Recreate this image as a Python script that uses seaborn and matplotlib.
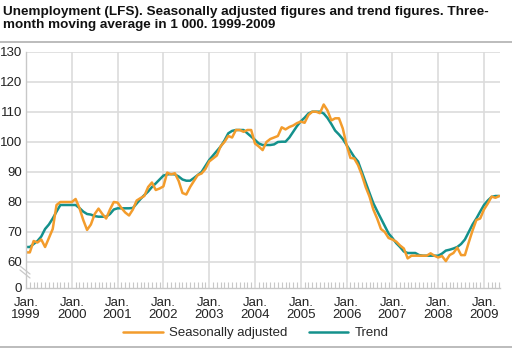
import numpy as np
import pandas as pd
import matplotlib
matplotlib.use("Agg")
import matplotlib.pyplot as plt
import matplotlib.ticker as mticker
import seaborn as sns

# Monthly data Jan 1999 .. May 2009 (in 1 000)
seasonally_adjusted = [
    63.2, 63.2, 67.0, 66.5, 67.5, 65.0, 68.0, 71.0, 79.0, 80.0, 80.0, 80.0,
    80.0, 81.0, 78.0, 74.0, 70.7, 72.5, 76.0, 77.8, 76.0, 74.5, 77.5, 80.0,
    79.8, 78.0, 76.5, 75.5, 77.5, 80.5, 81.3, 82.0, 85.0, 86.5, 84.0, 84.5,
    85.2, 89.8, 89.2, 89.6, 87.0, 83.0, 82.5, 85.0, 87.0, 89.0, 89.5, 91.0,
    93.5, 94.5, 95.5, 98.6, 100.0, 102.0, 101.5, 104.0, 104.0, 103.4, 104.0, 104.0,
    99.5, 98.5, 97.3, 100.0, 101.0, 101.5, 102.0, 104.9, 104.2, 105.0, 105.5, 106.3,
    106.8, 106.4, 109.0, 110.1, 110.1, 109.6, 112.5, 110.5, 107.2, 107.9, 107.9, 104.5,
    99.0, 94.7, 94.5, 92.3, 89.0, 85.0, 81.8, 77.5, 74.5, 71.0, 70.0, 68.0,
    67.5, 66.8, 65.5, 64.5, 61.2, 62.1, 62.1, 62.1, 62.1, 62.1, 62.9, 62.1,
    61.5, 62.0, 60.3, 62.3, 63.0, 64.8, 62.3, 62.3, 66.5, 70.5, 74.0, 74.5,
    77.5, 79.5, 81.8, 81.4, 82.0,
]
trend = [
    65.0, 65.0, 66.0, 67.0, 68.5, 71.0, 72.5, 74.5, 76.8, 79.0, 79.0, 79.0,
    79.0, 79.0, 78.0, 76.8, 76.0, 75.8, 75.3, 75.1, 75.1, 75.1, 76.0, 77.5,
    77.9, 77.9, 77.9, 77.9, 78.0, 79.5, 81.0, 82.3, 83.5, 85.0, 86.2, 87.5,
    88.8, 89.2, 89.3, 89.2, 88.5, 87.5, 87.1, 87.1, 88.0, 89.0, 90.0, 92.0,
    94.0, 95.5, 97.0, 98.5, 100.5, 102.9, 103.7, 104.0, 104.0, 104.0, 102.9, 101.8,
    100.7, 99.5, 99.0, 99.0, 99.0, 99.2, 100.0, 100.1, 100.1, 101.5, 103.4, 105.3,
    106.9, 108.1, 109.5, 110.1, 110.1, 110.1, 109.5, 108.0, 106.0, 103.8, 102.5, 101.0,
    99.0, 97.0, 95.0, 93.5, 90.0, 86.5, 83.0, 79.6, 77.0, 74.5, 72.0, 69.5,
    68.0, 66.3, 65.0, 63.5, 63.0, 63.0, 63.0, 62.3, 62.1, 62.1, 62.1, 62.1,
    62.1, 62.8, 63.8, 64.1, 64.5, 65.0, 66.0, 67.5, 70.0, 72.5, 74.5, 76.8,
    79.0, 80.5, 81.7, 82.0, 82.0,
]
years = list(range(1999, 2010))
year_labels = [f"Jan.\n{y}" for y in years]
y_ticks = [60, 70, 80, 90, 100, 110, 120, 130]
series_names = ["Seasonally adjusted", "Trend"]

months = np.arange(len(trend))
df = pd.concat([
    pd.DataFrame({"month": months, "value": seasonally_adjusted, "series": series_names[0]}),
    pd.DataFrame({"month": months, "value": trend, "series": series_names[1]}),
])

sns.set_theme(style="white")
plt.rcParams["font.family"] = ["Liberation Sans", "DejaVu Sans"]

W, H = 512, 349
fig = plt.figure(figsize=(W / 100, H / 100), dpi=100)
left, right, top, bottom = 26, 500, 52, 288
ax = fig.add_axes([left / W, 1 - bottom / H, (right - left) / W, (bottom - top) / H])

colors = {series_names[0]: "#f39c2c", series_names[1]: "#14918c"}
sns.lineplot(data=df, x="month", y="value", hue="series", hue_order=[series_names[1], series_names[0]],
             palette=colors, ax=ax, linewidth=1.8, legend=False)

zero_pos = 60 - 26 / 3.0
ax.set_ylim(zero_pos, 130)
ax.set_xlim(0, (right - left) / (45.8 / 12))

grid_c = "#dcdcdc"
for v in y_ticks:
    ax.axhline(v, color=grid_c, lw=1.2, zorder=0)
for i in range(len(years)):
    if i > 0:
        ax.axvline(i * 12, color=grid_c, lw=1.2, zorder=0)

ax.set_yticks([zero_pos] + y_ticks)
ax.set_yticklabels(["0"] + [str(v) for v in y_ticks])
ax.set_xticks([i * 12 for i in range(len(years))])
ax.set_xticklabels(year_labels)
ax.xaxis.set_minor_locator(mticker.MultipleLocator(1))
ax.tick_params(axis="x", which="major", direction="inout", length=9, width=0.8, color="#c8c8c8",
               labelsize=9.5, labelcolor="#222222", pad=2)
ax.tick_params(axis="x", which="minor", direction="in", length=4, width=0.8, color="#c8c8c8", bottom=True)
ax.tick_params(axis="y", which="major", length=0, labelsize=9.5, labelcolor="#222222", pad=3)
for lab in ax.get_xticklabels():
    lab.set_linespacing(1.05)

for s in ["top", "right"]:
    ax.spines[s].set_visible(False)
ax.spines["left"].set_color("#c8c8c8")
ax.spines["left"].set_linewidth(1.0)
ax.spines["bottom"].set_color("#c8c8c8")
ax.spines["bottom"].set_linewidth(1.0)
ax.set_xlabel("")
ax.set_ylabel("")

# axis break marks
tr = fig.transFigure
for dy in (0, 4):
    fig.add_artist(plt.Line2D([(left - 6) / W, (left + 4) / W],
                              [1 - (266 + dy) / H, 1 - (274 + dy) / H],
                              transform=tr, color="#c8c8c8", lw=0.9))

# title
fig.text(3 / W, 1 - 5.5 / H, "Unemployment (LFS). Seasonally adjusted figures and trend figures. Three-\nmonth moving average in 1 000. 1999-2009",
         ha="left", va="top", fontsize=9.7, fontweight="bold", color="#111111", linespacing=1.2)
fig.add_artist(plt.Line2D([0, 1], [1 - 41.5 / H, 1 - 41.5 / H], transform=tr, color="#b0b0b0", lw=1.2))
fig.add_artist(plt.Line2D([0, 1], [1 - 347 / H, 1 - 347 / H], transform=tr, color="#b0b0b0", lw=1.2))

# legend
handles = [plt.Line2D([], [], color=colors[n], lw=1.8) for n in series_names]
fig.legend(handles, series_names, loc="center", bbox_to_anchor=(0.5, 1 - 333 / H), ncol=2,
           frameon=False, fontsize=9.5, handlelength=3.0, columnspacing=1.6, handletextpad=0.5)

fig.savefig("out.png", dpi=100)
